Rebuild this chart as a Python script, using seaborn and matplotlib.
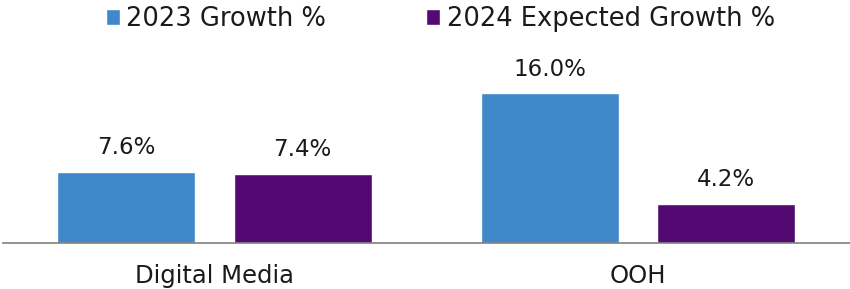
import pandas as pd
import numpy as np
import matplotlib
matplotlib.use("Agg")
import matplotlib.pyplot as plt
import seaborn as sns

sns.set_theme(style="white")
plt.rcParams['font.family'] = ['DejaVu Sans']

###Data
categories = ["Digital Media", "OOH"]
series = ["2023 Growth %", "2024 Expected Growth %"]
growth_2023 = [7.6, 16.0]
growth_2024 = [7.4, 4.2]

df = pd.DataFrame({
    "segment": categories * 2,
    "series": [series[0]] * 2 + [series[1]] * 2,
    "value": growth_2023 + growth_2024,
})

colors = ["#3F88CA", "#520A72"]

fig = plt.figure(figsize=(8.5, 2.89), dpi=100)
ax = fig.add_axes([0.003, 0.159, 0.997, 0.584])

sns.barplot(data=df, x="segment", y="value", hue="series", palette=colors,
            width=0.833, gap=0.218, ax=ax, saturation=1, legend=True)

for c in ax.containers:
    ax.bar_label(c, labels=[f"{v:.1f}%" for v in c.datavalues], padding=9,
                 fontsize=16.5, color="#1a1a1a")

ax.set_xlim(-0.5, 1.5)
ax.set_ylim(0, 18)
ax.set_xlabel("")
ax.set_ylabel("")
ax.set_yticks([])
ax.tick_params(axis="x", length=0, labelsize=17.5, pad=15, colors="#1a1a1a")
for s in ["top", "right", "left"]:
    ax.spines[s].set_visible(False)
ax.spines["bottom"].set_color("#808080")
ax.spines["bottom"].set_linewidth(1.2)

ax.legend(loc="upper center", bbox_to_anchor=(0.518, 1.015), bbox_transform=fig.transFigure,
          ncol=2, frameon=False, fontsize=18.5, handlelength=0.55, handleheight=0.55,
          handletextpad=0.25, columnspacing=3.9, borderaxespad=0.0,
          labelcolor="#1a1a1a")

plt.savefig("out.png", dpi=100)
